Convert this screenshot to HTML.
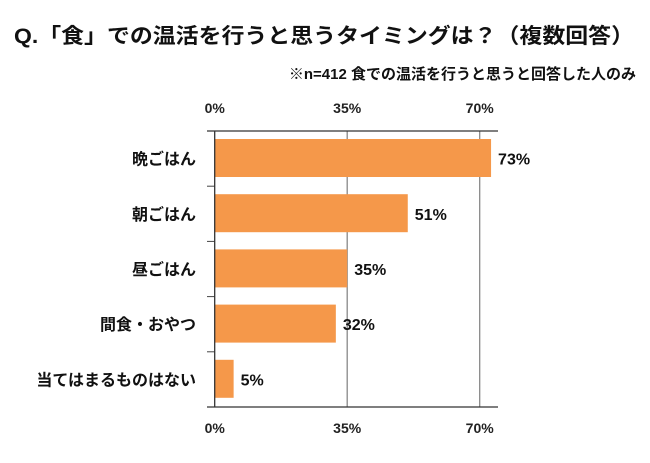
<!DOCTYPE html>
<html><head><meta charset="utf-8"><style>
body{margin:0;background:#fff;width:650px;height:458px;overflow:hidden;font-family:"Liberation Sans","Noto Sans CJK JP",sans-serif}
</style></head><body>
<svg width="650" height="458" font-family="Liberation Sans, Noto Sans CJK JP, sans-serif">
<text x="14" y="43" font-size="21" font-weight="bold" fill="#111" textLength="620" lengthAdjust="spacingAndGlyphs">Q.「食」での温活を行うと思うタイミングは？（複数回答）</text>
<text x="636" y="79" font-size="15" font-weight="bold" fill="#111" text-anchor="end">※n=412 食での温活を行うと思うと回答した人のみ</text>
<g id="g"></g>
</svg>
<script>
const categories=["晩ごはん","朝ごはん","昼ごはん","間食・おやつ","当てはまるものはない"];
const values=[73,51,35,32,5];
const ticks=[0,35,70];
const tickLabels=["0%","35%","70%"];
const x0=214.7,pxPer=(479.7-214.7)/70,yTop=131,yBottom=407;
const X=v=>x0+v*pxPer;
const ns="http://www.w3.org/2000/svg",g=document.getElementById('g');
function mk(t,a){const e=document.createElementNS(ns,t);for(const k in a)e.setAttribute(k,a[k]);g.appendChild(e);return e;}
const band=(yBottom-yTop)/categories.length;
ticks.forEach((t,i)=>{
 if(t>0){const l=mk('line',{x1:X(t),x2:X(t),y1:yTop,y2:yBottom,stroke:'#888','stroke-width':1.3});
 
 }
 [113,433].forEach((y,j)=>{const tx=mk('text',{x:X(t),y:y,'text-anchor':'middle','font-size':14,'font-weight':'bold',fill:'#222'});tx.textContent=tickLabels[i];
 
 });
});
values.forEach((v,i)=>{
 const y=yTop+i*band;
 const r=mk('rect',{x:X(0),y:y+8,width:X(v)-X(0),height:38,fill:'#f5984a'});
 
 
 const vl=mk('text',{x:X(v)+7,y:y+band/2+6,'font-size':16,'font-weight':'bold',fill:'#111'});vl.textContent=v+'%';
 
 
 const cl=mk('text',{x:196,y:y+band/2+6,'text-anchor':'end','font-size':16,'font-weight':'bold',fill:'#111'});cl.textContent=categories[i];
 
 
 if(i>0){const tk=mk('line',{x1:207,x2:X(0),y1:y,y2:y,stroke:'#444','stroke-width':1});
 
 }
});
[yTop,yBottom].forEach((y,j)=>{const l=mk('line',{x1:207,x2:498,y1:y,y2:y,stroke:'#333','stroke-width':1.3});
 
 });
const ya=mk('line',{x1:X(0),x2:X(0),y1:yTop,y2:yBottom,stroke:'#333','stroke-width':1.3});


</script>
</body></html>
